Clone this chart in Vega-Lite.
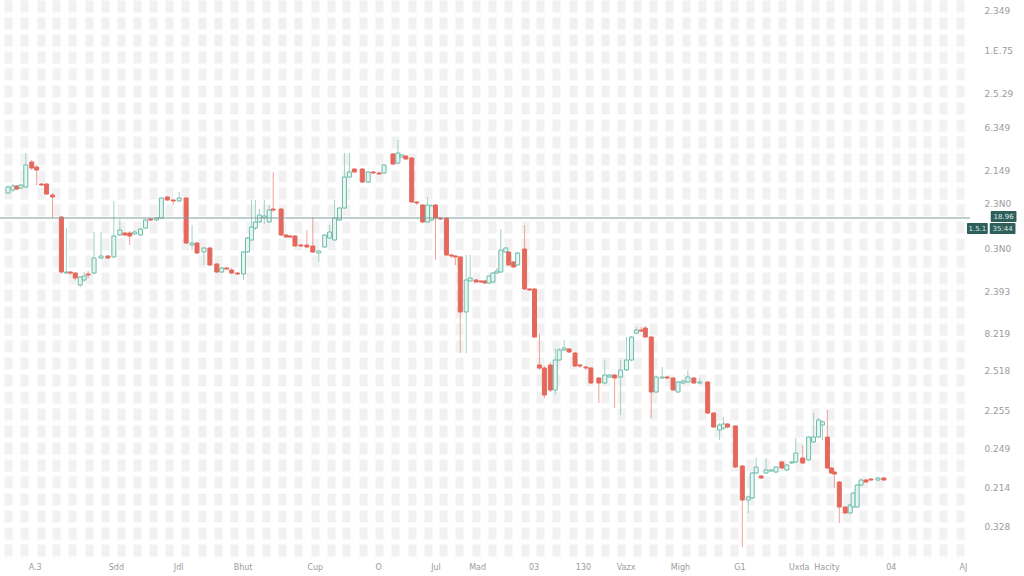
{
  "$schema": "https://vega.github.io/schema/vega-lite/v6.json",
  "width": 970,
  "height": 560,
  "autosize": "none",
  "padding": {"left": 0, "top": 0, "right": 54, "bottom": 16},
  "background": "#ffffff",
  "config": {
    "view": {"stroke": null},
    "axis": {"labelFont": "DejaVu Sans", "labelFontSize": 9, "labelColor": "#9c9c9c", "title": null}
  },
  "datasets": {
    "candles": [
      {"t":3,"o":407,"c":413,"h":415,"l":406},{"t":8,"o":410,"c":414,"h":416,"l":408},{"t":12,"o":414,"c":411,"h":415,"l":410},
      {"t":16,"o":412,"c":415,"h":416,"l":411},{"t":21,"o":413,"c":435,"h":447,"l":412},{"t":27,"o":438,"c":432,"h":440,"l":430},
      {"t":32,"o":433,"c":430,"h":435,"l":415},{"t":37,"o":416,"c":415,"h":417,"l":414},{"t":42,"o":416,"c":406,"h":417,"l":405},
      {"t":48,"o":405,"c":403,"h":407,"l":382},{"t":57,"o":383,"c":328,"h":384,"l":326},{"t":62,"o":327,"c":328,"h":372,"l":326},
      {"t":66,"o":328,"c":327,"h":329,"l":325},{"t":71,"o":327,"c":322,"h":328,"l":320},{"t":76,"o":315,"c":323,"h":324,"l":313},
      {"t":80,"o":320,"c":324,"h":328,"l":318},{"t":84,"o":326,"c":325,"h":329,"l":322},{"t":90,"o":327,"c":342,"h":368,"l":326},
      {"t":97,"o":342,"c":344,"h":368,"l":341},{"t":104,"o":344,"c":342,"h":345,"l":341},{"t":110,"o":343,"c":364,"h":399,"l":342},
      {"t":116,"o":365,"c":370,"h":381,"l":364},{"t":121,"o":367,"c":365,"h":368,"l":364},{"t":126,"o":367,"c":364,"h":369,"l":355},
      {"t":131,"o":366,"c":368,"h":370,"l":365},{"t":137,"o":365,"c":371,"h":372,"l":364},{"t":142,"o":372,"c":380,"h":381,"l":371},
      {"t":147,"o":381,"c":380,"h":382,"l":379},{"t":153,"o":380,"c":382,"h":383,"l":379},{"t":158,"o":382,"c":402,"h":403,"l":381},
      {"t":164,"o":403,"c":400,"h":404,"l":399},{"t":170,"o":400,"c":399,"h":401,"l":395},{"t":176,"o":399,"c":402,"h":408,"l":398},
      {"t":183,"o":402,"c":357,"h":403,"l":356},{"t":189,"o":355,"c":357,"h":375,"l":350},{"t":194,"o":357,"c":347,"h":358,"l":346},
      {"t":201,"o":348,"c":352,"h":353,"l":335},{"t":207,"o":352,"c":335,"h":353,"l":334},{"t":214,"o":336,"c":328,"h":337,"l":327},
      {"t":219,"o":328,"c":332,"h":333,"l":327},{"t":224,"o":332,"c":331,"h":333,"l":330},{"t":229,"o":330,"c":327,"h":332,"l":326},
      {"t":235,"o":327,"c":326,"h":328,"l":325},{"t":241,"o":326,"c":348,"h":349,"l":320},{"t":245,"o":348,"c":362,"h":363,"l":347},
      {"t":249,"o":360,"c":373,"h":400,"l":359},{"t":253,"o":372,"c":378,"h":400,"l":370},{"t":257,"o":378,"c":385,"h":391,"l":377},
      {"t":262,"o":382,"c":384,"h":400,"l":376},{"t":267,"o":378,"c":390,"h":395,"l":377},{"t":271,"o":391,"c":390,"h":428,"l":388},
      {"t":279,"o":391,"c":365,"h":392,"l":364},{"t":284,"o":365,"c":363,"h":366,"l":362},{"t":288,"o":364,"c":363,"h":365,"l":362},
      {"t":293,"o":364,"c":354,"h":365,"l":353},{"t":299,"o":355,"c":354,"h":356,"l":353},{"t":305,"o":355,"c":353,"h":370,"l":352},
      {"t":311,"o":354,"c":348,"h":383,"l":347},{"t":317,"o":347,"c":349,"h":350,"l":338},{"t":323,"o":353,"c":365,"h":366,"l":352},
      {"t":328,"o":362,"c":368,"h":375,"l":361},{"t":333,"o":360,"c":382,"h":400,"l":359},{"t":338,"o":380,"c":392,"h":393,"l":379},
      {"t":343,"o":392,"c":423,"h":447,"l":391},{"t":348,"o":423,"c":428,"h":447,"l":422},{"t":353,"o":431,"c":428,"h":432,"l":427},
      {"t":361,"o":431,"c":418,"h":432,"l":417},{"t":367,"o":418,"c":428,"h":429,"l":417},{"t":372,"o":428,"c":427,"h":429,"l":426},
      {"t":378,"o":427,"c":426,"h":428,"l":425},{"t":383,"o":427,"c":435,"h":436,"l":426},{"t":392,"o":446,"c":436,"h":447,"l":435},
      {"t":397,"o":437,"c":447,"h":460,"l":436},{"t":401,"o":443,"c":445,"h":446,"l":442},{"t":405,"o":444,"c":441,"h":445,"l":440},
      {"t":411,"o":442,"c":398,"h":443,"l":397},{"t":416,"o":398,"c":397,"h":399,"l":395},{"t":422,"o":395,"c":378,"h":396,"l":377},
      {"t":427,"o":378,"c":395,"h":403,"l":377},{"t":431,"o":380,"c":394,"h":396,"l":379},{"t":435,"o":395,"c":382,"h":396,"l":340},
      {"t":440,"o":382,"c":381,"h":383,"l":380},{"t":446,"o":382,"c":345,"h":383,"l":344},{"t":451,"o":345,"c":344,"h":346,"l":342},
      {"t":455,"o":344,"c":343,"h":345,"l":335},{"t":460,"o":343,"c":288,"h":344,"l":247},{"t":466,"o":288,"c":320,"h":345,"l":247},
      {"t":470,"o":319,"c":322,"h":345,"l":318},{"t":476,"o":320,"c":318,"h":321,"l":317},{"t":481,"o":319,"c":318,"h":320,"l":317},
      {"t":485,"o":319,"c":317,"h":320,"l":316},{"t":489,"o":317,"c":324,"h":325,"l":316},{"t":493,"o":318,"c":327,"h":328,"l":317},
      {"t":497,"o":327,"c":329,"h":332,"l":326},{"t":501,"o":328,"c":350,"h":371,"l":327},{"t":506,"o":348,"c":352,"h":353,"l":347},
      {"t":509,"o":348,"c":335,"h":349,"l":334},{"t":514,"o":338,"c":333,"h":339,"l":332},{"t":518,"o":335,"c":347,"h":348,"l":334},
      {"t":525,"o":351,"c":311,"h":375,"l":310},{"t":530,"o":311,"c":310,"h":312,"l":309},{"t":535,"o":311,"c":263,"h":312,"l":262},
      {"t":540,"o":235,"c":232,"h":266,"l":230},{"t":545,"o":232,"c":205,"h":234,"l":202},{"t":551,"o":235,"c":210,"h":238,"l":208},
      {"t":556,"o":210,"c":240,"h":252,"l":205},{"t":560,"o":240,"c":250,"h":252,"l":239},{"t":565,"o":250,"c":252,"h":260,"l":249},
      {"t":570,"o":251,"c":248,"h":252,"l":247},{"t":576,"o":247,"c":234,"h":248,"l":233},{"t":581,"o":235,"c":234,"h":236,"l":232},
      {"t":587,"o":233,"c":232,"h":234,"l":230},{"t":592,"o":232,"c":217,"h":233,"l":216},{"t":600,"o":222,"c":217,"h":223,"l":197},
      {"t":606,"o":217,"c":225,"h":240,"l":216},{"t":611,"o":223,"c":225,"h":226,"l":222},{"t":616,"o":225,"c":222,"h":226,"l":192},
      {"t":622,"o":223,"c":230,"h":240,"l":185},{"t":628,"o":230,"c":240,"h":263,"l":229},{"t":633,"o":240,"c":263,"h":264,"l":239},
      {"t":638,"o":267,"c":270,"h":273,"l":266},{"t":643,"o":270,"c":269,"h":273,"l":268},{"t":647,"o":272,"c":263,"h":274,"l":262},
      {"t":653,"o":263,"c":208,"h":264,"l":182},{"t":658,"o":208,"c":223,"h":224,"l":207},{"t":664,"o":222,"c":223,"h":233,"l":221},
      {"t":669,"o":223,"c":222,"h":224,"l":221},{"t":675,"o":222,"c":210,"h":223,"l":209},{"t":680,"o":208,"c":218,"h":219,"l":207},
      {"t":685,"o":217,"c":219,"h":220,"l":216},{"t":690,"o":218,"c":223,"h":230,"l":217},{"t":696,"o":222,"c":217,"h":223,"l":216},
      {"t":702,"o":217,"c":218,"h":222,"l":216},{"t":710,"o":218,"c":187,"h":219,"l":186},{"t":716,"o":187,"c":173,"h":188,"l":172},
      {"t":722,"o":170,"c":175,"h":177,"l":160},{"t":726,"o":172,"c":176,"h":183,"l":170},{"t":730,"o":176,"c":173,"h":177,"l":172},
      {"t":738,"o":174,"c":133,"h":175,"l":132},{"t":745,"o":134,"c":100,"h":135,"l":53},{"t":751,"o":100,"c":103,"h":104,"l":87},
      {"t":755,"o":102,"c":127,"h":128,"l":101},{"t":759,"o":127,"c":133,"h":142,"l":126},{"t":764,"o":124,"c":122,"h":125,"l":121},
      {"t":769,"o":127,"c":130,"h":142,"l":126},{"t":774,"o":129,"c":130,"h":131,"l":128},{"t":779,"o":128,"c":133,"h":134,"l":127},
      {"t":785,"o":138,"c":132,"h":139,"l":131},{"t":790,"o":130,"c":135,"h":136,"l":129},{"t":795,"o":137,"c":138,"h":139,"l":136},
      {"t":799,"o":138,"c":147,"h":162,"l":137},{"t":806,"o":142,"c":137,"h":155,"l":136},{"t":812,"o":140,"c":163,"h":164,"l":139},
      {"t":817,"o":158,"c":163,"h":187,"l":157},{"t":822,"o":163,"c":180,"h":182,"l":162},{"t":826,"o":175,"c":178,"h":180,"l":160},
      {"t":831,"o":163,"c":132,"h":190,"l":131},{"t":835,"o":132,"c":127,"h":133,"l":126},{"t":838,"o":128,"c":126,"h":129,"l":112},
      {"t":843,"o":118,"c":93,"h":119,"l":77},{"t":849,"o":93,"c":87,"h":94,"l":86},{"t":854,"o":87,"c":95,"h":96,"l":86},
      {"t":857,"o":93,"c":107,"h":108,"l":92},{"t":861,"o":93,"c":115,"h":116,"l":92},{"t":865,"o":115,"c":120,"h":121,"l":114},
      {"t":870,"o":120,"c":118,"h":121,"l":117},{"t":875,"o":121,"c":120,"h":122,"l":119},{"t":882,"o":120,"c":122,"h":123,"l":119},
      {"t":888,"o":122,"c":120,"h":123,"l":119}
    ],
    "last": [{"v": 382}],
    "tags": [
      {"x1": 996, "x2": 1022, "y1": 389, "y2": 378, "txt": "18.96"},
      {"x1": 972, "x2": 993, "y1": 377, "y2": 366, "txt": "1.5.1"},
      {"x1": 995, "x2": 1021, "y1": 377, "y2": 366, "txt": "35:44"}
    ]
  },
  "resolve": {"axis": {"x": "independent", "y": "independent"}},
  "layer": [
    {
      "data": {"name": "candles"},
      "mark": {"type": "rule", "strokeWidth": 1},
      "encoding": {
        "x": {
          "field": "t", "type": "quantitative",
          "scale": {"domain": [0, 970], "nice": false, "zero": false},
          "axis": {
            "orient": "bottom", "labels": false, "ticks": false, "domain": false,
            "grid": true, "gridColor": "#f1f1f1", "gridWidth": 8, "gridDash": [12, 5],
            "values": [3,19,36,52,68,85,101,117,133,150,166,182,199,215,231,248,264,280,296,313,329,345,362,378,394,411,427,443,459,476,492,508,525,541,557,574,590,606,622,639,655,671,688,704,720,737,753,769,785,802,818,834,851,867,883,900,916,932,948,965]
          }
        },
        "y": {
          "field": "l", "type": "quantitative",
          "scale": {"domain": [40, 600], "nice": false, "zero": false},
          "axis": null
        },
        "y2": {"field": "h"},
        "color": {"condition": {"test": "datum.c > datum.o", "value": "#9fd4c9"}, "value": "#f0a29b"}
      }
    },
    {
      "data": {"name": "candles"},
      "mark": {"type": "bar", "width": 4, "strokeWidth": 1},
      "encoding": {
        "x": {
          "field": "t", "type": "quantitative",
          "axis": {
            "orient": "bottom", "ticks": false, "domain": false, "grid": false,
            "labelOverlap": false, "labelFlush": false, "labelPadding": 3, "labelFontSize": 8,
            "values": [30,112,175,240,313,377,435,477,534,584,627,682,742,802,830,895,968],
            "labelExpr": "['A.3','Sdd','Jdl','Bhut','Cup','O','Jul','Mad','03','130','Vazx','Migh','G1','Uxda','Hacity','04','AJ'][indexof([30,112,175,240,313,377,435,477,534,584,627,682,742,802,830,895,968], datum.value)]"
          }
        },
        "y": {
          "field": "o", "type": "quantitative",
          "axis": {
            "orient": "right", "ticks": false, "domain": false, "grid": false,
            "labelOverlap": false, "labelFlush": false, "labelPadding": 14, "labelAlign": "left",
            "values": [590,550,507,473,430,397,352,309,267,230,190,152,113,74],
            "labelExpr": "['2.349','1.E.75','2.5.29','6.349','2.149','2.3N0','0.3N0','2.393','8.219','2.518','2.255','0.249','0.214','0.328'][indexof([590,550,507,473,430,397,352,309,267,230,190,152,113,74], datum.value)]"
          }
        },
        "y2": {"field": "c"},
        "fill": {"condition": {"test": "datum.c > datum.o", "value": "#e6f5f1"}, "value": "#e5685c"},
        "stroke": {"condition": {"test": "datum.c > datum.o", "value": "#6dbcaa"}, "value": "#e5685c"}
      }
    },
    {
      "data": {"name": "last"},
      "mark": {"type": "rule", "color": "#7f9e9b", "strokeWidth": 1},
      "encoding": {
        "y": {"field": "v", "type": "quantitative", "axis": null}
      }
    },
    {
      "data": {"name": "tags"},
      "mark": {"type": "rect", "color": "#2f5f5b", "cornerRadius": 1},
      "encoding": {
        "x": {"field": "x1", "type": "quantitative", "axis": null},
        "x2": {"field": "x2"},
        "y": {"field": "y1", "type": "quantitative", "axis": null},
        "y2": {"field": "y2"}
      }
    },
    {
      "data": {"name": "tags"},
      "transform": [{"calculate": "(datum.x1 + datum.x2) / 2", "as": "xm"}, {"calculate": "(datum.y1 + datum.y2) / 2", "as": "ym"}],
      "mark": {"type": "text", "color": "#dcebe8", "font": "DejaVu Sans", "fontSize": 7, "baseline": "middle", "align": "center"},
      "encoding": {
        "x": {"field": "xm", "type": "quantitative", "axis": null},
        "y": {"field": "ym", "type": "quantitative", "axis": null},
        "text": {"field": "txt"}
      }
    }
  ]
}
